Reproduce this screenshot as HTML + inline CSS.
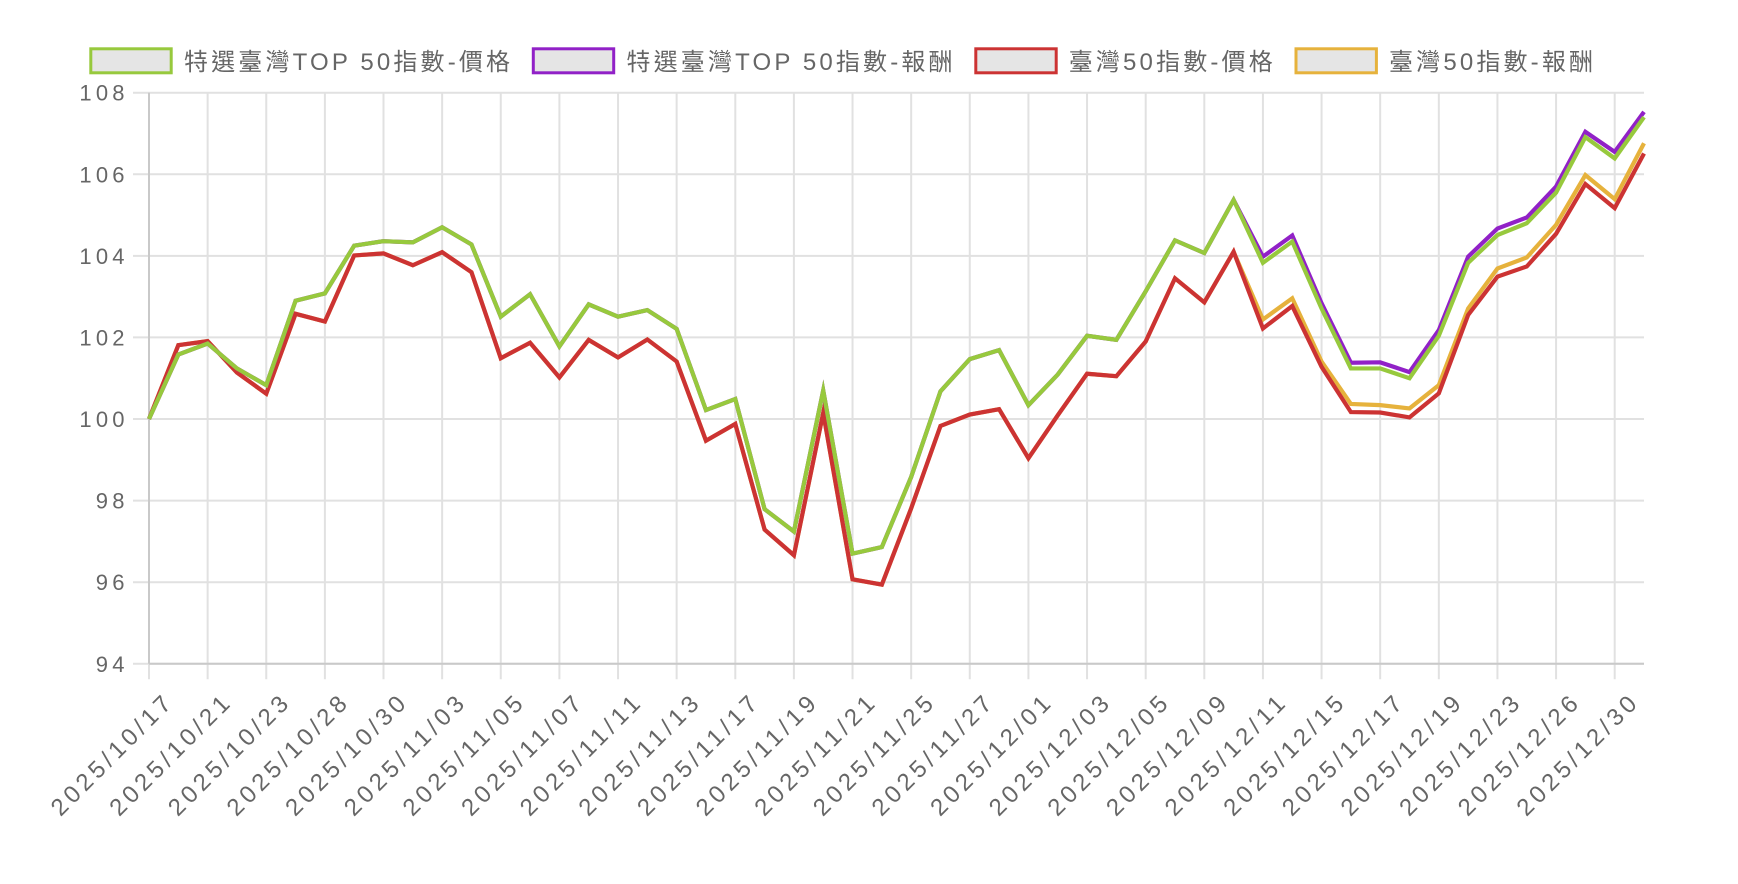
<!DOCTYPE html>
<html>
<head>
<meta charset="utf-8">
<style>
html,body{margin:0;padding:0;background:#fff;}
svg{display:block;}
text{font-family:"Liberation Sans","Noto Sans CJK TC",sans-serif;fill:#666;}
</style>
</head>
<body>
<svg width="1738" height="884" viewBox="0 0 1738 884" xmlns="http://www.w3.org/2000/svg">
<!-- horizontal grid -->
<g stroke="#e1e1e1" stroke-width="2">
<line x1="133" y1="92.7" x2="1644" y2="92.7"/>
<line x1="133" y1="174.3" x2="1644" y2="174.3"/>
<line x1="133" y1="255.9" x2="1644" y2="255.9"/>
<line x1="133" y1="337.4" x2="1644" y2="337.4"/>
<line x1="133" y1="419.0" x2="1644" y2="419.0"/>
<line x1="133" y1="500.6" x2="1644" y2="500.6"/>
<line x1="133" y1="582.2" x2="1644" y2="582.2"/>
<line x1="133" y1="663.8" x2="1644" y2="663.8"/>
</g>
<!-- vertical grid -->
<g stroke="#e1e1e1" stroke-width="2">
<line x1="149" y1="92.7" x2="149" y2="679.3"/>
<line x1="207.63" y1="92.7" x2="207.63" y2="679.3"/>
<line x1="266.26" y1="92.7" x2="266.26" y2="679.3"/>
<line x1="324.88" y1="92.7" x2="324.88" y2="679.3"/>
<line x1="383.51" y1="92.7" x2="383.51" y2="679.3"/>
<line x1="442.14" y1="92.7" x2="442.14" y2="679.3"/>
<line x1="500.77" y1="92.7" x2="500.77" y2="679.3"/>
<line x1="559.40" y1="92.7" x2="559.40" y2="679.3"/>
<line x1="618.02" y1="92.7" x2="618.02" y2="679.3"/>
<line x1="676.65" y1="92.7" x2="676.65" y2="679.3"/>
<line x1="735.28" y1="92.7" x2="735.28" y2="679.3"/>
<line x1="793.91" y1="92.7" x2="793.91" y2="679.3"/>
<line x1="852.54" y1="92.7" x2="852.54" y2="679.3"/>
<line x1="911.16" y1="92.7" x2="911.16" y2="679.3"/>
<line x1="969.79" y1="92.7" x2="969.79" y2="679.3"/>
<line x1="1028.42" y1="92.7" x2="1028.42" y2="679.3"/>
<line x1="1087.05" y1="92.7" x2="1087.05" y2="679.3"/>
<line x1="1145.68" y1="92.7" x2="1145.68" y2="679.3"/>
<line x1="1204.30" y1="92.7" x2="1204.30" y2="679.3"/>
<line x1="1262.93" y1="92.7" x2="1262.93" y2="679.3"/>
<line x1="1321.56" y1="92.7" x2="1321.56" y2="679.3"/>
<line x1="1380.19" y1="92.7" x2="1380.19" y2="679.3"/>
<line x1="1438.82" y1="92.7" x2="1438.82" y2="679.3"/>
<line x1="1497.44" y1="92.7" x2="1497.44" y2="679.3"/>
<line x1="1556.07" y1="92.7" x2="1556.07" y2="679.3"/>
<line x1="1614.70" y1="92.7" x2="1614.70" y2="679.3"/>
</g>
<!-- axes borders -->
<g stroke="#c9c9c9" stroke-width="2">
<line x1="149" y1="92.7" x2="149" y2="663.8"/>
<line x1="149" y1="663.8" x2="1644" y2="663.8"/>
</g>

<!-- series (drawn in reverse dataset order) -->
<g fill="none" stroke-width="4.2" stroke-linejoin="miter" stroke-miterlimit="10" transform="matrix(29.314 0 0 -40.79 149 4498.02)">
<polyline vector-effect="non-scaling-stroke" stroke="#e6b23c" points="0,100 1,101.81 2,101.91 3,101.14 4,100.62 5,102.58 6,102.39 7,104.01 8,104.06 9,103.77 10,104.09 11,103.6 12,101.49 13,101.87 14,101.02 15,101.94 16,101.51 17,101.95 18,101.41 19,99.47 20,99.88 21,97.29 22,96.66 23,100.15 24,96.07 25,95.94 26,97.81 27,99.83 28,100.11 29,100.24 30,99.04 31,100.09 32,101.11 33,101.05 34,101.9 35,103.45 36,102.86 37,104.1 38,102.44 39,102.96 40,101.41 41,100.37 42,100.34 43,100.26 44,100.83 45,102.71 46,103.69 47,103.96 48,104.76 49,105.98 50,105.39 51,106.76"/>
<polyline vector-effect="non-scaling-stroke" stroke="#cc3333" points="0,100 1,101.81 2,101.91 3,101.14 4,100.62 5,102.58 6,102.39 7,104.01 8,104.06 9,103.77 10,104.09 11,103.6 12,101.49 13,101.87 14,101.02 15,101.94 16,101.51 17,101.95 18,101.41 19,99.47 20,99.88 21,97.29 22,96.66 23,100.15 24,96.07 25,95.94 26,97.81 27,99.83 28,100.11 29,100.24 30,99.04 31,100.09 32,101.11 33,101.05 34,101.9 35,103.45 36,102.86 37,104.1 38,102.22 39,102.77 40,101.28 41,100.17 42,100.16 43,100.04 44,100.63 45,102.55 46,103.49 47,103.74 48,104.54 49,105.76 50,105.17 51,106.51"/>
<polyline vector-effect="non-scaling-stroke" stroke="#9121c7" points="0,100 1,101.58 2,101.85 3,101.24 4,100.83 5,102.9 6,103.08 7,104.25 8,104.36 9,104.33 10,104.7 11,104.28 12,102.51 13,103.06 14,101.78 15,102.81 16,102.51 17,102.67 18,102.21 19,100.22 20,100.49 21,97.79 22,97.24 23,100.7 24,96.7 25,96.86 26,98.58 27,100.68 28,101.47 29,101.69 30,100.34 31,101.09 32,102.04 33,101.94 34,103.13 35,104.38 36,104.07 37,105.37 38,103.98 39,104.5 40,102.84 41,101.38 42,101.39 43,101.15 44,102.18 45,103.98 46,104.67 47,104.94 48,105.7 49,107.04 50,106.55 51,107.53"/>
<polyline vector-effect="non-scaling-stroke" stroke="#97c93d" points="0,100 1,101.58 2,101.85 3,101.24 4,100.83 5,102.9 6,103.08 7,104.25 8,104.36 9,104.33 10,104.7 11,104.28 12,102.51 13,103.06 14,101.78 15,102.81 16,102.51 17,102.67 18,102.21 19,100.22 20,100.49 21,97.79 22,97.24 23,100.7 24,96.7 25,96.86 26,98.58 27,100.68 28,101.47 29,101.69 30,100.34 31,101.09 32,102.04 33,101.94 34,103.13 35,104.38 36,104.07 37,105.37 38,103.83 39,104.35 40,102.71 41,101.24 42,101.24 43,101.0 44,102.04 45,103.83 46,104.51 47,104.8 48,105.55 49,106.91 50,106.39 51,107.4"/>
</g>

<!-- y labels -->
<g font-size="22" text-anchor="end">
<text x="124.5" y="100.7" textLength="45.1" lengthAdjust="spacing">108</text>
<text x="124.5" y="182.3" textLength="45.1" lengthAdjust="spacing">106</text>
<text x="124.5" y="263.9" textLength="45.1" lengthAdjust="spacing">104</text>
<text x="124.5" y="345.4" textLength="45.1" lengthAdjust="spacing">102</text>
<text x="124.5" y="427.0" textLength="45.1" lengthAdjust="spacing">100</text>
<text x="124.5" y="508.6" textLength="28.7" lengthAdjust="spacing">98</text>
<text x="124.5" y="590.2" textLength="28.7" lengthAdjust="spacing">96</text>
<text x="124.5" y="671.8" textLength="28.7" lengthAdjust="spacing">94</text>
</g>

<!-- x labels -->
<g font-size="24" text-anchor="end">
<text transform="translate(172.4,705.5) rotate(-45)" textLength="158" lengthAdjust="spacing">2025/10/17</text>
<text transform="translate(231.03,705.5) rotate(-45)" textLength="158" lengthAdjust="spacing">2025/10/21</text>
<text transform="translate(289.66,705.5) rotate(-45)" textLength="158" lengthAdjust="spacing">2025/10/23</text>
<text transform="translate(348.28,705.5) rotate(-45)" textLength="158" lengthAdjust="spacing">2025/10/28</text>
<text transform="translate(406.91,705.5) rotate(-45)" textLength="158" lengthAdjust="spacing">2025/10/30</text>
<text transform="translate(465.54,705.5) rotate(-45)" textLength="158" lengthAdjust="spacing">2025/11/03</text>
<text transform="translate(524.17,705.5) rotate(-45)" textLength="158" lengthAdjust="spacing">2025/11/05</text>
<text transform="translate(582.80,705.5) rotate(-45)" textLength="158" lengthAdjust="spacing">2025/11/07</text>
<text transform="translate(641.42,705.5) rotate(-45)" textLength="158" lengthAdjust="spacing">2025/11/11</text>
<text transform="translate(700.05,705.5) rotate(-45)" textLength="158" lengthAdjust="spacing">2025/11/13</text>
<text transform="translate(758.68,705.5) rotate(-45)" textLength="158" lengthAdjust="spacing">2025/11/17</text>
<text transform="translate(817.31,705.5) rotate(-45)" textLength="158" lengthAdjust="spacing">2025/11/19</text>
<text transform="translate(875.94,705.5) rotate(-45)" textLength="158" lengthAdjust="spacing">2025/11/21</text>
<text transform="translate(934.56,705.5) rotate(-45)" textLength="158" lengthAdjust="spacing">2025/11/25</text>
<text transform="translate(993.19,705.5) rotate(-45)" textLength="158" lengthAdjust="spacing">2025/11/27</text>
<text transform="translate(1051.82,705.5) rotate(-45)" textLength="158" lengthAdjust="spacing">2025/12/01</text>
<text transform="translate(1110.45,705.5) rotate(-45)" textLength="158" lengthAdjust="spacing">2025/12/03</text>
<text transform="translate(1169.08,705.5) rotate(-45)" textLength="158" lengthAdjust="spacing">2025/12/05</text>
<text transform="translate(1227.70,705.5) rotate(-45)" textLength="158" lengthAdjust="spacing">2025/12/09</text>
<text transform="translate(1286.33,705.5) rotate(-45)" textLength="158" lengthAdjust="spacing">2025/12/11</text>
<text transform="translate(1344.96,705.5) rotate(-45)" textLength="158" lengthAdjust="spacing">2025/12/15</text>
<text transform="translate(1403.59,705.5) rotate(-45)" textLength="158" lengthAdjust="spacing">2025/12/17</text>
<text transform="translate(1462.22,705.5) rotate(-45)" textLength="158" lengthAdjust="spacing">2025/12/19</text>
<text transform="translate(1520.84,705.5) rotate(-45)" textLength="158" lengthAdjust="spacing">2025/12/23</text>
<text transform="translate(1579.47,705.5) rotate(-45)" textLength="158" lengthAdjust="spacing">2025/12/26</text>
<text transform="translate(1638.10,705.5) rotate(-45)" textLength="158" lengthAdjust="spacing">2025/12/30</text>
</g>

<!-- legend -->
<g stroke-width="3" fill="#e5e5e5">
<rect x="90.8" y="48.8" width="80.4" height="24" stroke="#97c93d"/>
<rect x="533.3" y="48.8" width="80.4" height="24" stroke="#9121c7"/>
<rect x="975.8" y="48.8" width="80.4" height="24" stroke="#cc3333"/>
<rect x="1296.0" y="48.8" width="80.4" height="24" stroke="#e6b23c"/>
</g>
<g font-size="24">
<text x="184" y="70" textLength="326" lengthAdjust="spacing">特選臺灣TOP 50指數-價格</text>
<text x="626.5" y="70" textLength="326" lengthAdjust="spacing">特選臺灣TOP 50指數-報酬</text>
<text x="1068.7" y="70" textLength="204" lengthAdjust="spacing">臺灣50指數-價格</text>
<text x="1389" y="70" textLength="204" lengthAdjust="spacing">臺灣50指數-報酬</text>
</g>
</svg>
</body>
</html>
